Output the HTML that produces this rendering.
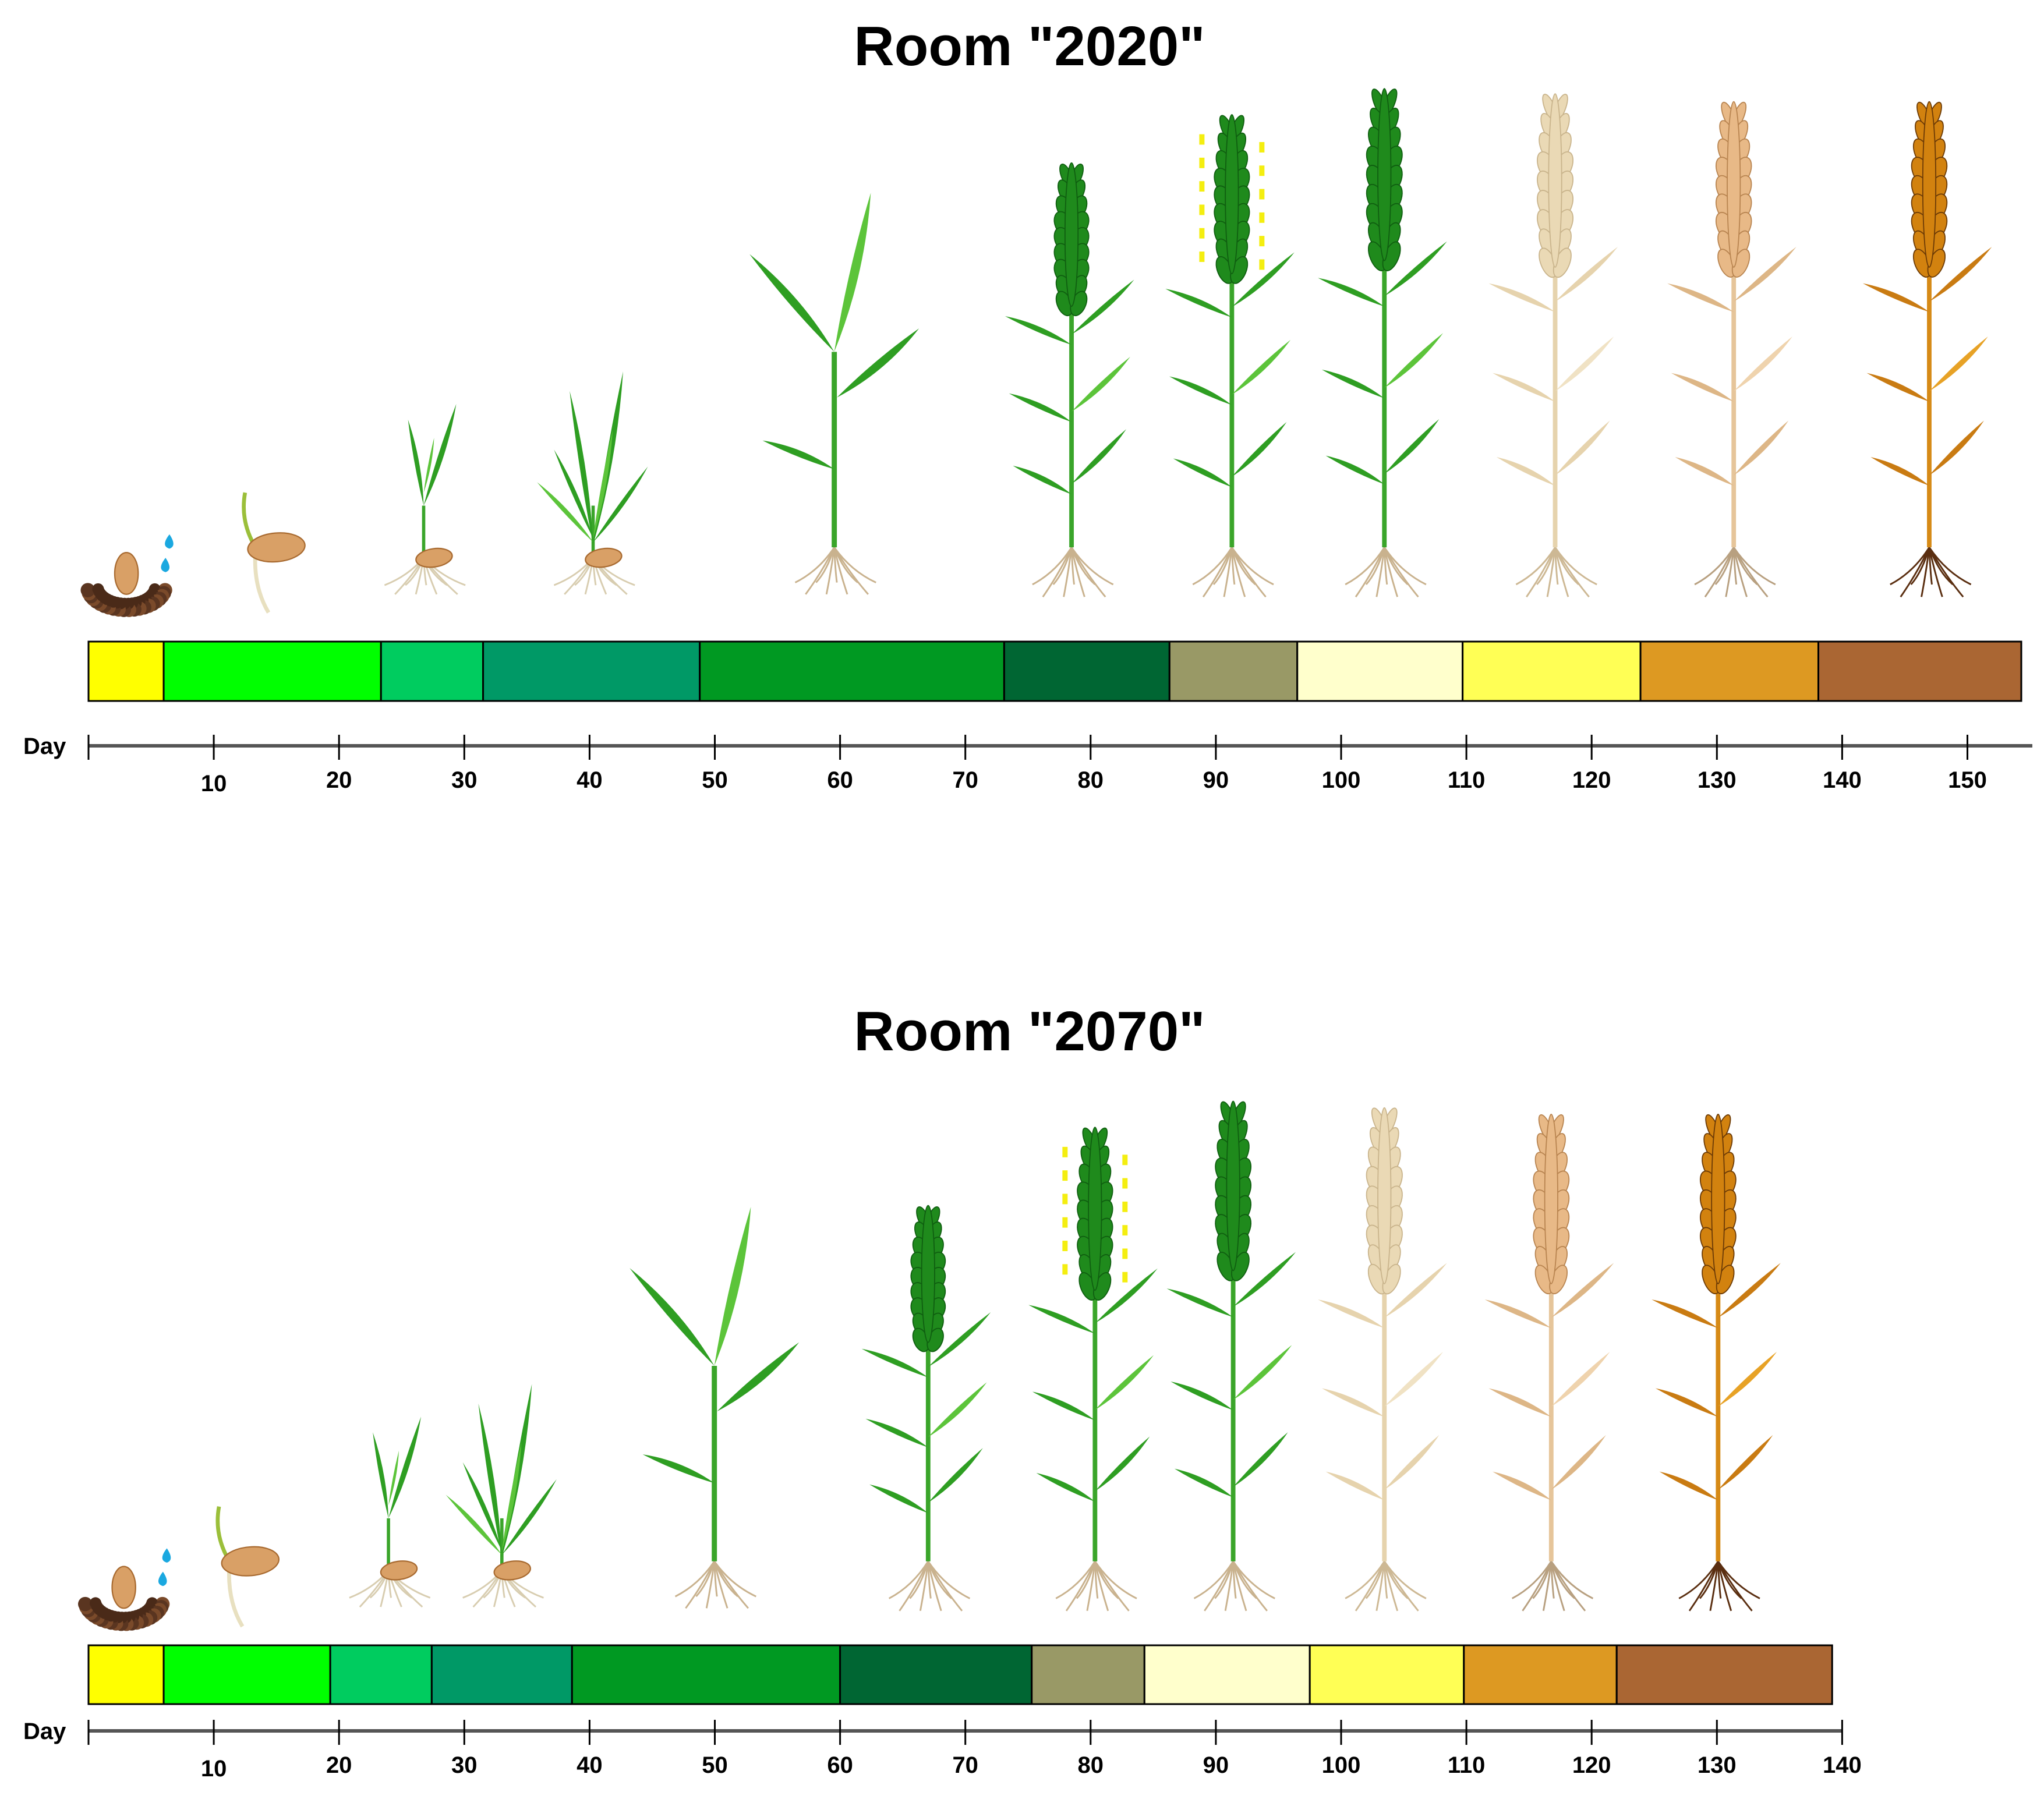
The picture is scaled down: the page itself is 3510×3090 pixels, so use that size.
<!DOCTYPE html>
<html><head><meta charset="utf-8"><style>
html,body{margin:0;padding:0;background:#fff}
svg{display:block}
text{font-family:"Liberation Sans",sans-serif;font-weight:bold;fill:#000}
</style></head><body>
<svg id="c" xmlns="http://www.w3.org/2000/svg" width="3510" height="3090" viewBox="0 0 3510 3090">
<rect width="3510" height="3090" fill="#fff"/>
<text x="1768" y="112" font-size="96" text-anchor="middle">Room "2020"</text>
<text x="1768" y="1804" font-size="96" text-anchor="middle">Room "2070"</text>
<g id="plants" transform="scale(2.2385)"></g>
<g id="bars"></g>
</svg>
<script>
const stageColors=["#ffff00","#00ff00","#00cc5f","#009966","#009922","#006633","#999966","#ffffcc","#ffff55","#dd9922","#aa6633"];
const bounds2020=[0,6,23.35,31.5,48.8,73.1,86.3,96.5,109.7,123.9,138.1,154.3];
const bounds2070=[0,6,19.3,27.4,38.6,60,75.3,84.3,97.5,109.8,122,139.2];
const ticks2020=[0,10,20,30,40,50,60,70,80,90,100,110,120,130,140,150];
const ticks2070=[0,10,20,30,40,50,60,70,80,90,100,110,120,130,140];
const NS="http://www.w3.org/2000/svg";
const X0=152,PX=21.51;
function xd(d){return X0+PX*d;}
function mk(tag,attrs,parent){const e=document.createElementNS(NS,tag);for(const k in attrs)e.setAttribute(k,attrs[k]);parent.appendChild(e);return e;}
const bars=document.getElementById('bars');
function panel(bounds,ticks,barTop,barBot,axisY,axisEnd,name){
  const g=mk('g',{},bars);
  
  
  for(let i=0;i<bounds.length-1;i++){
    const r=mk('rect',{x:xd(bounds[i]),y:barTop,width:xd(bounds[i+1])-xd(bounds[i]),height:barBot-barTop,fill:stageColors[i],stroke:'#000','stroke-width':3},g);
    
    
  }
  const a=mk('g',{},bars);
  
  
  mk('line',{x1:X0,x2:axisEnd,y1:axisY,y2:axisY,stroke:'#555','stroke-width':6},a);
  ticks.forEach(t=>{
    mk('line',{x1:xd(t),x2:xd(t),y1:axisY-19,y2:axisY+24,stroke:'#000','stroke-width':3},a);
    if(t>0){const tx=mk('text',{x:xd(t),y:axisY+72+(t===10?6:0),'font-size':40,'text-anchor':'middle'},a);tx.textContent=t;
      
      }
  });
  const d=mk('text',{x:40,y:axisY+14,'font-size':40},a);d.textContent='Day';
  
  
}
panel(bounds2020,ticks2020,1102,1204,1281,3490,'room-2020');
panel(bounds2070,ticks2070,2826,2927,2973,xd(140),'room-2070');

const P=document.getElementById('plants');
const pal={
 green:{leaf:'#2e9e22',leaf2:'#5cc43a',stem:'#3aa52a',head:'#1f8a1c',hs:'#0f5e10',root:'#c9b28e'},
 pale:{leaf:'#e6d3ad',leaf2:'#f0e2c4',stem:'#e6d3ad',head:'#ead9b5',hs:'#c9b48c',root:'#cdb894'},
 tan:{leaf:'#ddb686',leaf2:'#efd3ad',stem:'#e6c59a',head:'#e8b987',hs:'#b88450',root:'#b8a080'},
 gold:{leaf:'#c97b12',leaf2:'#e7a226',stem:'#d68a16',head:'#d2820f',hs:'#6b3a06',root:'#5a2e10'}
};
function leaf(g,x0,y0,x1,y1,w,fill){
  const mx=(x0+x1)/2,my=(y0+y1)/2,dx=x1-x0,dy=y1-y0,L=Math.hypot(dx,dy)||1;
  const nx=-dy/L*w,ny=dx/L*w;
  mk('path',{d:`M${x0} ${y0}Q${mx+nx} ${my+ny} ${x1} ${y1}Q${mx-nx*0.4} ${my-ny*0.4} ${x0} ${y0}Z`,fill:fill},g);
}
function roots(g,x,y,c,len){
  const offs=[-30,-22,-14,-6,2,10,18,26,32];
  offs.forEach((o,i)=>{mk('path',{d:`M${x} ${y}Q${x+o*0.4} ${y+len*0.5} ${x+o} ${y+len*(0.75+0.25*(i%2))}`,stroke:c,'stroke-width':1.3,fill:'none'},g);});
}
function seedShape(g,x,y,rx,ry,rot){
  mk('ellipse',{cx:x,cy:y,rx:rx,ry:ry,fill:'#d9a066',stroke:'#a86a30','stroke-width':1,transform:`rotate(${rot} ${x} ${y})`},g);
}
function plant(p){
  const g=mk('g',{},P);
  
  
  const x=p.x,y=p.g;
  if(p.t==='seed'){
    for(let i=0;i<22;i++){const a=Math.PI*(0.05+0.9*i/21);const r=30;
      mk('circle',{cx:x+Math.cos(a)*r,cy:y-12+Math.sin(a)*r*0.6,r:5.5,fill:i%2?'#5a3520':'#7a4a2a'},g);
      mk('circle',{cx:x+Math.cos(a)*(r-8),cy:y-12+Math.sin(a)*(r-8)*0.6,r:4.5,fill:'#4a2a18'},g);}
    seedShape(g,x,y-22,9,16,0);
    mk('path',{d:`M${x+33} ${y-52}q-7 9 0 11q6-2 0-11z`,fill:'#1aa8e0'},g);
    mk('path',{d:`M${x+30} ${y-34}q-7 9 0 11q6-2 0-11z`,fill:'#1aa8e0'},g);
  } else if(p.t==='germ'){
    mk('path',{d:`M${x-14} ${y}Q${x-26} ${y-20} ${x-22} ${y-42}`,stroke:'#9bbf3a','stroke-width':3,fill:'none'},g);
    mk('path',{d:`M${x-14} ${y+2}Q${x-16} ${y+30} ${x-4} ${y+50}`,stroke:'#e8e0c0','stroke-width':3,fill:'none'},g);
    seedShape(g,x+2,y,22,11,-5);
  } else if(p.t==='seedl'||p.t==='till'){
    const c=pal.green;
    roots(g,x,y,'#d8cdb0',28);
    mk('path',{d:`M${x} ${y}L${x} ${y-40}`,stroke:c.stem,'stroke-width':2.5},g);
    if(p.t==='seedl'){
      leaf(g,x,y-40,x-12,y-106,5,c.leaf);leaf(g,x,y-40,x+25,y-118,6,c.leaf);leaf(g,x,y-50,x+8,y-92,3,c.leaf2);
    } else {
      leaf(g,x,y-10,x-18,y-128,6,c.leaf);leaf(g,x,y-10,x+23,y-143,7,c.leaf);
      leaf(g,x,y-12,x-43,y-58,5,c.leaf2);leaf(g,x,y-12,x+42,y-70,5,c.leaf);
      leaf(g,x,y-15,x-30,y-83,5,c.leaf);leaf(g,x,y-15,x+15,y-98,5,c.leaf2);
    }
    seedShape(g,x+8,y,14,7,-8);
  } else if(p.t==='veg'){
    const c=pal.green;
    roots(g,x,y,c.root,36);
    mk('path',{d:`M${x} ${y}L${x} ${y-150}`,stroke:c.stem,'stroke-width':4},g);
    leaf(g,x,y-60,x-55,y-82,7,c.leaf);
    leaf(g,x+2,y-115,x+65,y-168,9,c.leaf);
    leaf(g,x,y-150,x-65,y-225,9,c.leaf);
    leaf(g,x,y-150,x+28,y-272,10,c.leaf2);
  } else {
    const c=pal[p.p];
    roots(g,x,y,c.root,38);
    mk('path',{d:`M${x} ${y}L${x} ${p.hb}`,stroke:c.stem,'stroke-width':3.5},g);
    const L=y-p.hb;
    [0.22,0.52,0.84].forEach((f,i)=>{const yy=y-L*f;
      leaf(g,x,yy,x-45-i*3,yy-22,6,c.leaf);
      leaf(g,x,yy-8,x+42+i*3,yy-50,6,i%2?c.leaf2:c.leaf);});
    const n=9,h=(p.hb-p.ht)/n;
    for(let i=0;i<n;i++){const yy=p.ht+h*0.5+i*h;const w=7+Math.min(i,3)*1.5-(i>6?1.5:0);
      mk('ellipse',{cx:x-w*0.55,cy:yy+4,rx:w*0.55,ry:h*0.8,fill:c.head,stroke:c.hs,'stroke-width':0.8,transform:`rotate(-22 ${x-w*0.55} ${yy+4})`},g);
      mk('ellipse',{cx:x+w*0.55,cy:yy+4,rx:w*0.55,ry:h*0.8,fill:c.head,stroke:c.hs,'stroke-width':0.8,transform:`rotate(22 ${x+w*0.55} ${yy+4})`},g);}
    mk('ellipse',{cx:x,cy:(p.ht+p.hb)/2,rx:5,ry:(p.hb-p.ht)/2,fill:c.head,stroke:c.hs,'stroke-width':0.8},g);
    if(p.anth){for(let i=0;i<6;i++){const yy=p.ht+15+i*18;
      mk('rect',{x:x-25,y:yy,width:4,height:8,fill:'#f4ee10'},g);mk('rect',{x:x+21,y:yy+6,width:4,height:8,fill:'#f4ee10'},g);}}
  }
}
const plants=[
 {t:'seed',x:97,g:462},{t:'germ',x:210,g:420},{t:'seedl',x:325,g:428},{t:'till',x:455,g:428},
 {t:'veg',x:640,g:420},{t:'head',x:822,g:420,ht:125,hb:235,p:'green'},{t:'head',x:945,g:420,ht:88,hb:210,p:'green',anth:1},
 {t:'head',x:1062,g:420,ht:68,hb:200,p:'green'},{t:'head',x:1193,g:420,ht:72,hb:205,p:'pale'},{t:'head',x:1330,g:420,ht:78,hb:205,p:'tan'},{t:'head',x:1480,g:420,ht:78,hb:205,p:'gold'},
 {t:'seed',x:95,g:1240},{t:'germ',x:190,g:1198},{t:'seedl',x:298,g:1205},{t:'till',x:385,g:1205},
 {t:'veg',x:548,g:1198},{t:'head',x:712,g:1198,ht:925,hb:1030,p:'green'},{t:'head',x:840,g:1198,ht:865,hb:990,p:'green',anth:1},
 {t:'head',x:946,g:1198,ht:845,hb:975,p:'green'},{t:'head',x:1062,g:1198,ht:850,hb:985,p:'pale'},{t:'head',x:1190,g:1198,ht:855,hb:985,p:'tan'},{t:'head',x:1318,g:1198,ht:855,hb:985,p:'gold'}
];
plants.forEach(plant);
</script>
</body></html>
